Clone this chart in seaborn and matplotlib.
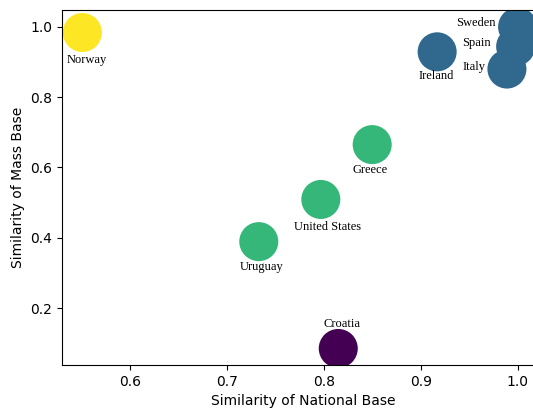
import matplotlib
matplotlib.use("Agg")
import matplotlib.pyplot as plt
import seaborn as sns
import pandas as pd

countries = ["Norway", "Sweden", "Spain", "Italy", "Ireland", "Greece",
             "United States", "Uruguay", "Croatia"]
national_base = [0.551, 1.000, 0.998, 0.989, 0.917, 0.850, 0.797, 0.733, 0.815]
mass_base = [0.984, 1.000, 0.944, 0.880, 0.929, 0.665, 0.509, 0.389, 0.085]
cluster = [3, 1, 1, 1, 1, 2, 2, 2, 0]

# label offsets in pixels (layout only)
label_offsets = {
    "Norway": (4, -28, "center"),
    "Sweden": (-22, 4, "right"),
    "Spain": (-25, 4, "right"),
    "Italy": (-21, 2, "right"),
    "Ireland": (-1, -24, "center"),
    "Greece": (-2, -25, "center"),
    "United States": (7, -28, "center"),
    "Uruguay": (3, -25, "center"),
    "Croatia": (4, 24, "center"),
}

df = pd.DataFrame({"country": countries, "x": national_base,
                   "y": mass_base, "cluster": cluster})

fig = plt.figure(figsize=(5.33, 4.08), dpi=100)
ax = fig.add_axes([62/533, 43/408, 1.02 - 62/533, (365-10)/408])
sns.scatterplot(data=df, x="x", y="y", hue="cluster", palette="viridis",
                s=790, linewidth=0, legend=False, ax=ax, alpha=1)

for c, x, y in zip(countries, national_base, mass_base):
    dx, dy, ha = label_offsets[c]
    ax.annotate(c, (x, y), xytext=(dx, dy), textcoords="offset pixels",
                ha=ha, va="center", fontsize=9, family="Liberation Serif")

ax.set_xlim(0.530, 1.0 + 26/966.7)
ax.set_ylim(0.038, 1.048)
ax.set_xticks([0.6, 0.7, 0.8, 0.9, 1.0])
ax.set_yticks([0.2, 0.4, 0.6, 0.8, 1.0])
ax.set_xlabel("Similarity of National Base", fontsize=10)
ax.set_ylabel("Similarity of Mass Base", fontsize=10)
ax.tick_params(labelsize=10)

fig.savefig("out.png", dpi=100)
